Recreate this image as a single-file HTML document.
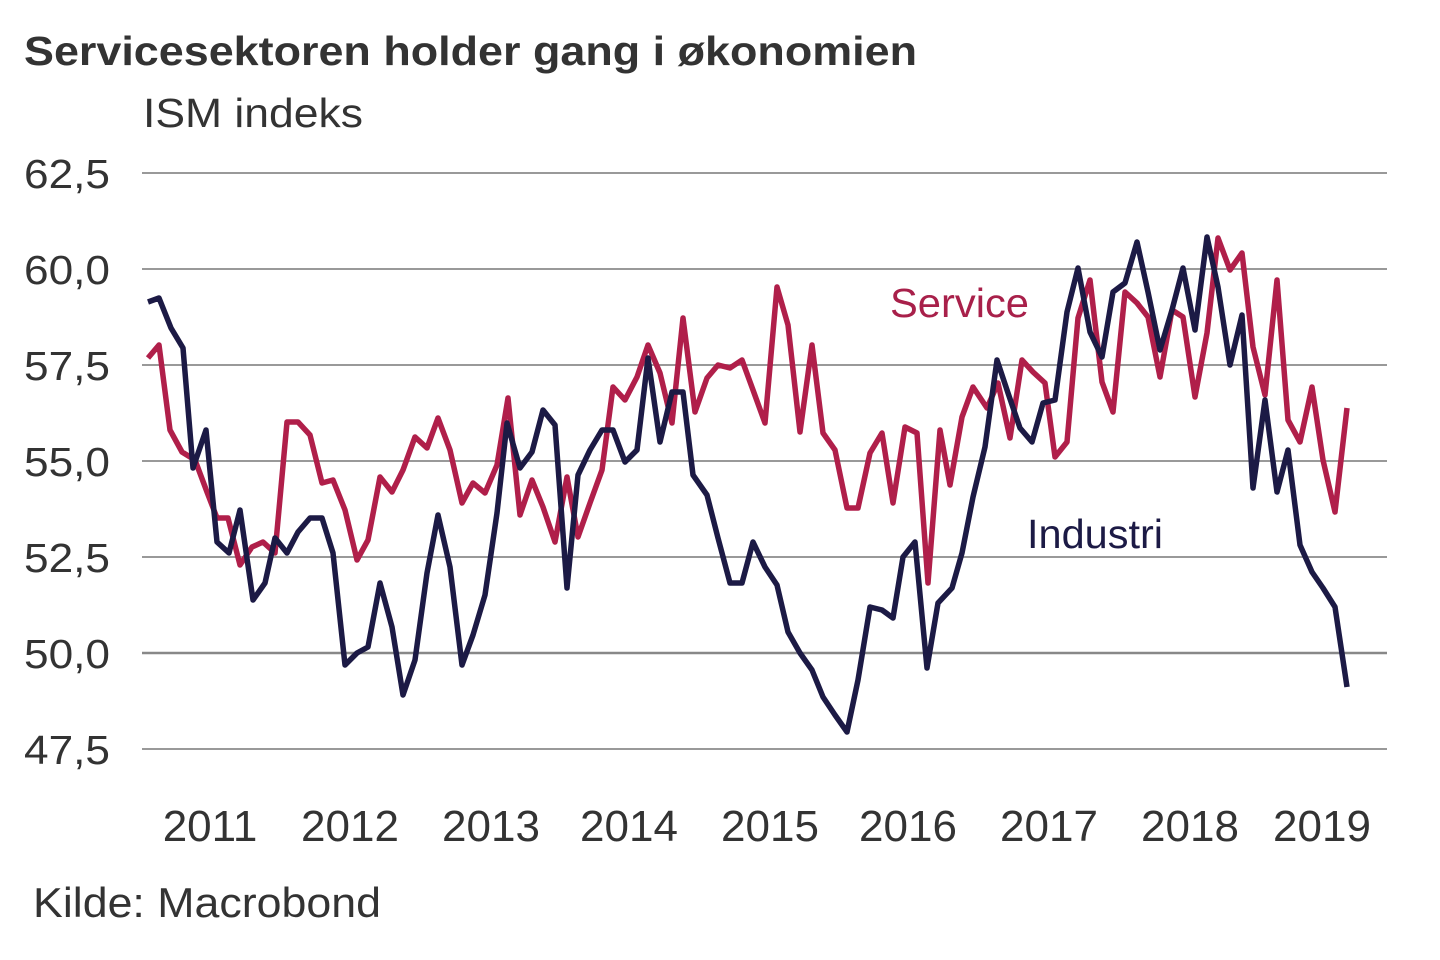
<!DOCTYPE html>
<html><head><meta charset="utf-8"><style>
html,body{margin:0;padding:0;background:#fff;}
svg{display:block;font-family:"Liberation Sans",Arial,sans-serif;}
</style></head><body>
<svg width="1440" height="960" viewBox="0 0 1440 960">
<text x="24" y="65" font-size="41" font-weight="bold" fill="#333" textLength="893" lengthAdjust="spacingAndGlyphs">Servicesektoren holder gang i økonomien</text>
<text x="143" y="127" font-size="41" fill="#333" textLength="220" lengthAdjust="spacingAndGlyphs">ISM indeks</text>
<g stroke="#999" stroke-width="2">
<line x1="142" y1="173" x2="1387" y2="173"/><line x1="142" y1="269" x2="1387" y2="269"/>
<line x1="142" y1="365" x2="1387" y2="365"/><line x1="142" y1="461" x2="1387" y2="461"/>
<line x1="142" y1="557" x2="1387" y2="557"/><line x1="142" y1="653" x2="1387" y2="653" stroke="#888" stroke-width="2.5"/>
<line x1="142" y1="749" x2="1387" y2="749"/>
</g>
<g font-size="41" fill="#333">
<text x="24" y="188" textLength="86" lengthAdjust="spacingAndGlyphs">62,5</text><text x="24" y="284" textLength="86" lengthAdjust="spacingAndGlyphs">60,0</text><text x="24" y="380" textLength="86" lengthAdjust="spacingAndGlyphs">57,5</text>
<text x="24" y="476" textLength="86" lengthAdjust="spacingAndGlyphs">55,0</text><text x="24" y="572" textLength="86" lengthAdjust="spacingAndGlyphs">52,5</text><text x="24" y="668" textLength="86" lengthAdjust="spacingAndGlyphs">50,0</text><text x="24" y="764" textLength="86" lengthAdjust="spacingAndGlyphs">47,5</text>
</g>
<g font-size="44" fill="#333" text-anchor="middle">
<text x="210" y="841">2011</text><text x="350" y="841">2012</text><text x="491" y="841">2013</text>
<text x="629" y="841">2014</text><text x="770" y="841">2015</text><text x="908" y="841">2016</text>
<text x="1049" y="841">2017</text><text x="1190" y="841">2018</text><text x="1322" y="841">2019</text>
</g>
<text x="33" y="917" font-size="42" fill="#333" textLength="348" lengthAdjust="spacingAndGlyphs">Kilde: Macrobond</text>
<text x="890" y="317" font-size="41" fill="#a8204a" textLength="139" lengthAdjust="spacingAndGlyphs">Service</text>
<text x="1027" y="548" font-size="41" fill="#1c1a45" textLength="136" lengthAdjust="spacingAndGlyphs">Industri</text>
<polyline fill="none" stroke="#b01f4a" stroke-width="5.5" stroke-linejoin="round" points="148,358 159,345 170,430 182,452 195,460 207,492 217,518 228,518 240,565 252,547 263,542 275,553 287,422 298,422 310,435 322,483 333,480 345,510 357,560 368,540 380,477 392,492 403,470 415,437 427,448 438,418 450,450 462,503 473,483 485,493 497,465 508,398 520,515 532,480 543,507 555,542 567,477 578,537 590,503 602,470 613,387 625,400 637,377 648,345 660,373 672,423 683,318 695,412 707,378 718,365 730,368 742,360 753,390 765,423 777,287 788,325 800,432 812,345 823,433 835,450 847,508 858,508 870,453 882,433 893,503 905,427 917,433 928,583 940,430 950,485 962,417 973,387 987,408 998,383 1010,438 1022,360 1033,372 1045,383 1055,457 1067,442 1078,318 1090,280 1102,382 1113,412 1125,292 1137,303 1148,317 1160,377 1172,310 1183,317 1195,397 1207,333 1218,238 1230,270 1242,253 1253,347 1265,395 1277,280 1288,420 1300,442 1312,387 1323,460 1335,512 1347,408"/>
<polyline fill="none" stroke="#1c1a45" stroke-width="5.5" stroke-linejoin="round" points="148,302 159,298 171,328 183,348 193,468 206,430 217,542 229,553 240,510 253,600 265,583 275,538 287,553 298,532 310,518 322,518 333,553 345,665 357,653 368,647 380,583 392,627 403,695 415,660 427,573 438,515 450,567 462,665 473,635 485,595 497,513 507,423 520,468 532,452 543,410 555,425 567,588 578,475 590,450 602,430 613,430 625,462 637,450 648,358 660,442 672,392 683,392 693,475 707,495 718,538 730,583 742,583 753,542 765,567 777,585 788,632 800,653 812,670 823,697 835,715 847,732 858,680 870,607 882,610 893,618 903,557 915,542 927,668 938,603 952,588 962,553 973,497 985,447 997,360 1008,393 1020,428 1032,442 1043,403 1055,400 1067,312 1078,268 1090,332 1102,357 1113,292 1125,283 1137,242 1148,292 1160,350 1172,310 1183,268 1195,330 1207,237 1218,287 1230,365 1242,315 1253,488 1265,400 1277,492 1288,450 1300,545 1312,572 1323,588 1335,607 1347,687"/>
</svg>
</body></html>
